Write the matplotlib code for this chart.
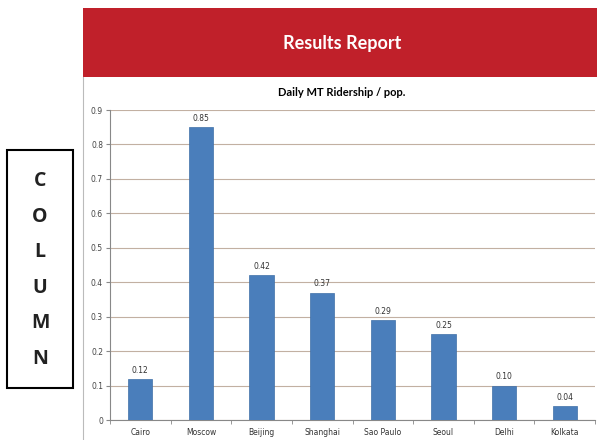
import matplotlib.pyplot as plt
from matplotlib.patches import Rectangle

cities = ["Cairo", "Moscow", "Beijing", "Shanghai", "Sao Paulo", "Seoul", "Delhi", "Kolkata"]
ridership = [0.12, 0.85, 0.42, 0.37, 0.29, 0.25, 0.10, 0.04]
yticks = [0, 0.1, 0.2, 0.3, 0.4, 0.5, 0.6, 0.7, 0.8, 0.9]
side_letters = list("COLUMN")

fig = plt.figure(figsize=(5.97, 4.40), dpi=100)
W, H = 597, 440


def fx(px):
    return px / W


def fy(py):
    return 1 - py / H


# red banner
fig.patches.append(Rectangle((fx(83), fy(77)), fx(597) - fx(83), fy(8) - fy(77),
                             transform=fig.transFigure, facecolor="#c0202a",
                             edgecolor="none", zorder=0))
fig.text(fx(342), fy(43), "Results Report", color="white", fontsize=13,
         fontweight="bold", family="Lato", ha="center", va="center")

# chart frame left border
fig.add_artist(plt.Line2D([fx(83), fx(83)], [fy(77), 0], transform=fig.transFigure,
                          color="#bbbbbb", lw=0.8))
fig.text(fx(342), fy(92), "Daily MT Ridership / pop.", fontsize=8,
         fontweight="bold", family="Lato", ha="center", va="center")

# COLUMN side box
fig.patches.append(Rectangle((fx(7), fy(388)), fx(73) - fx(7), fy(150) - fy(388),
                             transform=fig.transFigure, facecolor="white",
                             edgecolor="black", lw=1.5))
for i, ch in enumerate(side_letters):
    fig.text(fx(40), fy(181 + i * 35.5), ch, fontsize=14, fontweight="bold",
             family="Open Sans", ha="center", va="center", color="#222222")

ax = fig.add_axes([fx(110), fy(420), fx(595) - fx(110), fy(110) - fy(420)])
x = range(len(cities))
bars = ax.bar(x, ridership, width=0.4, color="#4a7ebb", edgecolor="#3f6fa8",
              linewidth=0.5, zorder=3)
for xi, v in zip(x, ridership):
    ax.text(xi, v + 0.012, f"{v:.2f}", ha="center", va="bottom", fontsize=5.5,
            color="#333333")

ax.set_xlim(-0.5, len(cities) - 0.5)
ax.set_ylim(0, 0.9)
ax.set_yticks(yticks)
ax.set_yticklabels([f"{t:g}" for t in yticks], fontsize=5.5, color="#444444")
ax.yaxis.grid(True, color="#c2b0a2", lw=0.8, zorder=0)
ax.set_xticks(list(x))
ax.set_xticklabels(cities, fontsize=5.5, color="#333333")
ax.set_xticks([i + 0.5 for i in range(-1, len(cities))], minor=True)
ax.tick_params(axis="x", which="major", length=0, pad=6)
ax.tick_params(axis="x", which="minor", length=3, direction="out", color="#888888")
ax.tick_params(axis="y", length=3, color="#888888", pad=2)
for s in ["top", "right"]:
    ax.spines[s].set_visible(False)
for s in ["left", "bottom"]:
    ax.spines[s].set_color("#888888")
    ax.spines[s].set_linewidth(0.8)

fig.savefig("out.png", dpi=100)
